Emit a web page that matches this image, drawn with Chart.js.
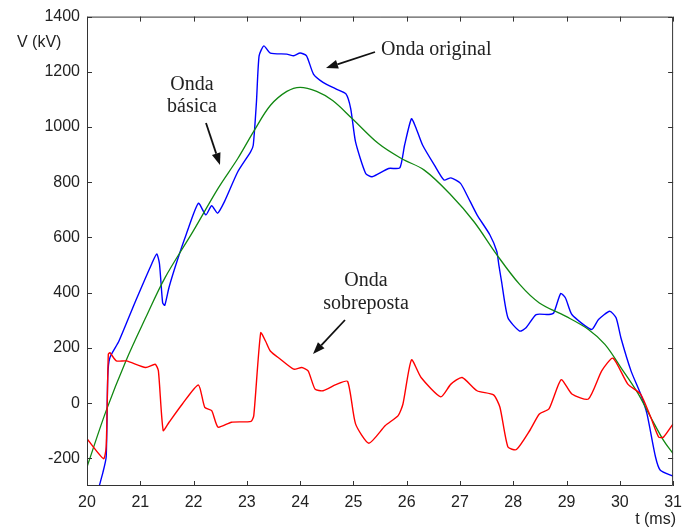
<!DOCTYPE html>
<html>
<head>
<meta charset="utf-8">
<script src="https://cdn.jsdelivr.net/npm/chart.js@4/dist/chart.umd.min.js"></script>
<style>
  body { margin: 0; background: #fff; }
  #chart { display: block; }
</style>
</head>
<body>
<canvas id="chart" width="689" height="532"></canvas>
<script>
// tempo (ms) e tensao (kV)
const origT = [20.23, 20.30, 20.36, 20.39, 20.43, 20.60, 20.91, 21.22, 21.31, 21.36, 21.42, 21.46, 21.54, 21.70, 21.86, 22.09, 22.23, 22.34, 22.45, 22.58, 22.83, 23.07, 23.12, 23.18, 23.23, 23.32, 23.44, 23.75, 23.88, 24.00, 24.12, 24.25, 24.43, 24.67, 24.86, 24.95, 25.04, 25.23, 25.35, 25.66, 25.87, 25.96, 26.09, 26.18, 26.30, 26.52, 26.70, 26.83, 27.01, 27.13, 27.32, 27.56, 27.69, 27.73, 27.78, 27.90, 28.12, 28.24, 28.43, 28.67, 28.76, 28.89, 28.98, 29.10, 29.47, 29.60, 29.81, 29.93, 30.02, 30.21, 30.39, 30.51, 30.67, 30.76, 31.00];
const origV = [-300, -250, -195, 100, 165, 225, 369, 507, 540, 505, 363, 355, 420, 520, 610, 724, 682, 715, 688, 730, 838, 910, 934, 1090, 1258, 1294, 1268, 1264, 1258, 1268, 1258, 1192, 1162, 1138, 1120, 1066, 946, 832, 820, 850, 852, 934, 1030, 994, 934, 862, 808, 816, 796, 754, 682, 610, 550, 500, 441, 309, 261, 273, 321, 321, 327, 397, 381, 321, 267, 303, 333, 309, 237, 117, 33, -39, -195, -243, -265];

const basT = [20.00, 20.36, 20.73, 21.10, 21.46, 21.99, 22.46, 22.83, 23.14, 23.44, 23.75, 24.00, 24.31, 24.61, 24.98, 25.47, 25.90, 26.33, 26.83, 27.26, 27.69, 28.12, 28.49, 28.98, 29.41, 29.72, 30.02, 30.33, 30.58, 30.82, 31.00];
const basV = [-231, -27, 153, 309, 453, 622, 778, 886, 988, 1078, 1129, 1144, 1129, 1096, 1030, 940, 886, 844, 754, 658, 538, 430, 363, 315, 267, 213, 129, 39, -51, -135, -183];

const sobT = [20.00, 20.31, 20.36, 20.40, 20.43, 20.55, 20.74, 21.10, 21.28, 21.34, 21.43, 21.54, 21.79, 22.09, 22.21, 22.34, 22.46, 22.71, 23.08, 23.13, 23.26, 23.35, 23.44, 23.63, 23.88, 24.03, 24.15, 24.28, 24.43, 24.67, 24.89, 25.04, 25.29, 25.60, 25.84, 25.93, 26.09, 26.27, 26.64, 26.83, 27.04, 27.32, 27.63, 27.75, 27.90, 28.06, 28.31, 28.49, 28.67, 28.90, 29.10, 29.41, 29.66, 29.87, 30.15, 30.39, 30.58, 30.73, 30.82, 31.00];
const sobV = [-129, -201, -159, 177, 183, 153, 153, 129, 141, 117, -99, -69, -3, 66, -15, -27, -87, -69, -66, -45, 255, 225, 189, 159, 123, 129, 117, 51, 45, 67, 79, -75, -145, -81, -45, -3, 157, 93, 23, 69, 93, 45, 30, -15, -159, -168, -99, -39, -21, 85, 33, 15, 117, 163, 69, 33, -51, -123, -123, -75];

const xTicks = [20, 21, 22, 23, 24, 25, 26, 27, 28, 29, 30, 31];
const yTicks = [-200, 0, 200, 400, 600, 800, 1000, 1200, 1400];

function pts(t, v) {
    return t.map(function (x, i) { return { x: x, y: v[i] }; });
}

// moldura com marcas de escala para dentro
const framePlugin = {
    id: 'frame',
    afterDatasetsDraw: function (chart) {
        const c = chart.ctx, a = chart.chartArea;
        const sx = chart.scales.x, sy = chart.scales.y;
        c.save();
        c.strokeStyle = '#333';
        c.lineWidth = 1;
        c.beginPath();
        c.rect(a.left + 0.5, a.top + 0.5, a.right - a.left - 1, a.bottom - a.top - 1);
        xTicks.forEach(function (v) {
            const px = Math.round(sx.getPixelForValue(v)) + 0.5;
            c.moveTo(px, a.bottom); c.lineTo(px, a.bottom - 5);
            c.moveTo(px, a.top); c.lineTo(px, a.top + 5);
        });
        yTicks.forEach(function (v) {
            const py = Math.round(sy.getPixelForValue(v)) + 0.5;
            c.moveTo(a.left, py); c.lineTo(a.left + 5, py);
            c.moveTo(a.right, py); c.lineTo(a.right - 5, py);
        });
        c.stroke();

        c.fillStyle = '#222';
        c.font = '16px "Liberation Sans", Arial, sans-serif';
        c.textAlign = 'left';
        c.textBaseline = 'middle';
        c.fillText('V (kV)', 17, 43);
        c.textAlign = 'right';
        c.fillText('t (ms)', 676, 520);

        c.font = '20px "Liberation Serif", "Times New Roman", serif';
        c.textBaseline = 'alphabetic';
        c.textAlign = 'left';
        c.fillText('Onda original', 381, 55);
        c.textAlign = 'center';
        c.fillText('Onda', 192, 90);
        c.fillText('básica', 192, 112);
        c.fillText('Onda', 366, 286);
        c.fillText('sobreposta', 366, 309);

        arrow(c, 375, 52, 326, 68);
        arrow(c, 206, 123, 220, 165);
        arrow(c, 345, 320, 313, 354);
        c.restore();
    }
};

function arrow(c, x1, y1, x2, y2) {
    const ang = Math.atan2(y2 - y1, x2 - x1);
    const len = 12, w = 4.5;
    const bx = x2 - len * Math.cos(ang), by = y2 - len * Math.sin(ang);
    c.strokeStyle = '#111';
    c.fillStyle = '#111';
    c.lineWidth = 1.8;
    c.beginPath();
    c.moveTo(x1, y1);
    c.lineTo(bx, by);
    c.stroke();
    c.beginPath();
    c.moveTo(x2, y2);
    c.lineTo(bx - w * Math.sin(ang), by + w * Math.cos(ang));
    c.lineTo(bx + w * Math.sin(ang), by - w * Math.cos(ang));
    c.closePath();
    c.fill();
}

const tickFont = { family: '"Liberation Sans", Arial, sans-serif', size: 16 };

const ctx = document.getElementById('chart');
new Chart(ctx, {
    type: 'scatter',
    data: {
        datasets: [{
            label: 'Onda sobreposta',
            data: pts(sobT, sobV),
            borderColor: '#ff0000',
            borderWidth: 1.4,
            showLine: true,
            pointRadius: 0,
            tension: 0.2
        }, {
            label: 'Onda básica',
            data: pts(basT, basV),
            borderColor: '#118811',
            borderWidth: 1.3,
            showLine: true,
            pointRadius: 0,
            tension: 0.35
        }, {
            label: 'Onda original',
            data: pts(origT, origV),
            borderColor: '#0000ff',
            borderWidth: 1.4,
            showLine: true,
            pointRadius: 0,
            tension: 0.2
        }]
    },
    options: {
        responsive: false,
        animation: false,
        events: [],
        clip: true,
        layout: { padding: { top: 14, right: 6, left: 0, bottom: 0 } },
        plugins: {
            legend: { display: false },
            tooltip: { enabled: false }
        },
        scales: {
            x: {
                type: 'linear',
                min: 20,
                max: 31,
                afterFit: function (s) { s.height = 46; },
                afterBuildTicks: function (s) { s.ticks = xTicks.map(function (v) { return { value: v }; }); },
                grid: { display: false, drawTicks: false },
                border: { display: false },
                ticks: {
                    padding: 7,
                    color: '#222',
                    font: tickFont,
                    callback: function (v) { return String(v); }
                }
            },
            y: {
                min: -300,
                max: 1400,
                afterFit: function (s) { s.width = 87; },
                afterBuildTicks: function (s) { s.ticks = yTicks.map(function (v) { return { value: v }; }); },
                grid: { display: false, drawTicks: false },
                border: { display: false },
                ticks: {
                    padding: 7,
                    color: '#222',
                    font: tickFont,
                    callback: function (v) { return String(v); }
                }
            }
        }
    },
    plugins: [framePlugin]
});
</script>
</body>
</html>
